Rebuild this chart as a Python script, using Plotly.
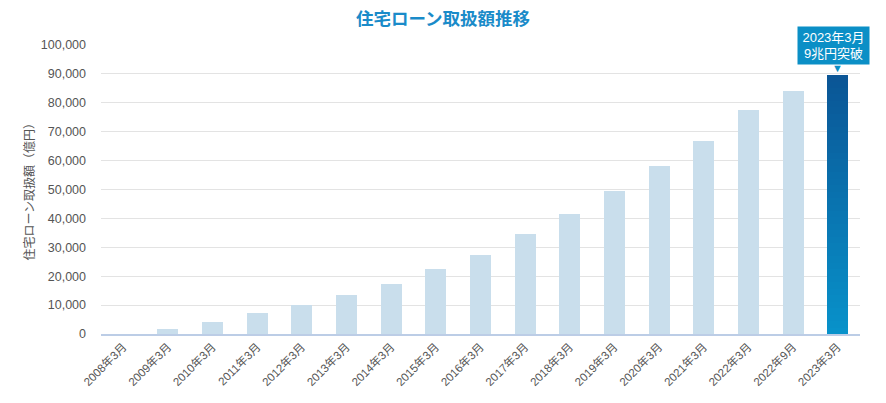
import numpy as np
import plotly.graph_objects as go

categories = ["2008年3月", "2009年3月", "2010年3月", "2011年3月", "2012年3月", "2013年3月",
              "2014年3月", "2015年3月", "2016年3月", "2017年3月", "2018年3月", "2019年3月",
              "2020年3月", "2021年3月", "2022年3月", "2022年9月", "2023年3月"]
values = [0, 1700, 4200, 7300, 10000, 13500, 17300, 22500, 27300, 34600, 41500,
          49500, 58100, 66800, 77500, 84100, 89600]
y_ticks = [0, 10000, 20000, 30000, 40000, 50000, 60000, 70000, 80000, 90000, 100000]

FONT = "'Liberation Sans', 'Noto Sans CJK JP', sans-serif"
LIGHT = "#c9deec"
TOP_C = np.array([11, 86, 150])
BOT_C = np.array([8, 146, 202])

fig = go.Figure()

# regular bars (all but last)
fig.add_trace(go.Bar(x=categories[:-1], y=values[:-1], marker_color=LIGHT,
                     marker_line_width=0, showlegend=False, hoverinfo="x+y"))

# last bar drawn as a vertical gradient of stacked slices
n = 40
last_val = values[-1]
for i in range(n):
    t = i / (n - 1)
    c = BOT_C + (TOP_C - BOT_C) * t
    fig.add_trace(go.Bar(x=[categories[-1]], y=[last_val / n],
                         marker_color="rgb(%d,%d,%d)" % tuple(c.astype(int)),
                         marker_line_width=0, showlegend=False, hoverinfo="skip"))

fig.update_layout(
    barmode="stack",
    bargap=0.53,
    width=886, height=403,
    margin=dict(l=101, r=26, t=45, b=69, autoexpand=False),
    paper_bgcolor="white", plot_bgcolor="white",
    font=dict(family=FONT, color="#555555", size=12),
    title=dict(text="<b>住宅ローン取扱額推移</b>", x=0.5, xanchor="center",
               y=0.953, yanchor="middle",
               font=dict(size=17.5, color="#1a8bc9", family=FONT)),
)

fig.update_yaxes(range=[0, 100000], tickvals=y_ticks, tickformat=",",
                 showgrid=True, gridcolor="#e3e3e3", gridwidth=1,
                 zeroline=False, showline=False, ticks="", automargin=False,
                 ticklabelstandoff=14,
                 tickfont=dict(size=12.5, color="#555555"))
fig.update_xaxes(tickangle=-45, showline=True, linecolor="#bccde6", linewidth=1.5,
                 ticks="", automargin=False,
                 range=[-0.5, len(categories) - 0.5],
                 tickfont=dict(size=11.5, color="#555555"))

# y-axis title placed in paper coordinates
fig.add_annotation(text="住宅ローン取扱額（億円）", xref="paper", yref="paper",
                   x=0, y=0.5, xshift=-72, textangle=-90, showarrow=False,
                   xanchor="center", yanchor="middle",
                   font=dict(size=12, color="#555555", family=FONT))

# callout annotation
fig.add_annotation(x=categories[-1], y=last_val, xref="x", yref="y",
                   text="2023年3月<br>9兆円突破", showarrow=False,
                   yanchor="bottom", yshift=10, xshift=-4,
                   width=65, height=31, valign="middle",
                   bgcolor="#0b8fc6", borderpad=3, align="center",
                   font=dict(color="white", size=13, family=FONT))
fig.add_annotation(x=categories[-1], y=last_val, xref="x", yref="y",
                   text="▼", showarrow=False, yanchor="bottom", yshift=-1,
                   font=dict(color="#0b8fc6", size=11))

fig.write_html("out.html")
